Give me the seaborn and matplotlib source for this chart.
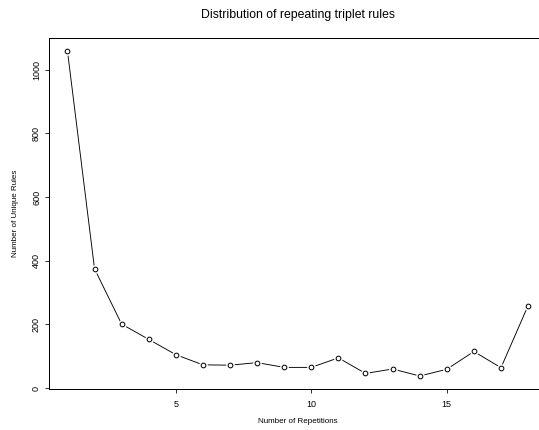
import numpy as np
import pandas as pd
import matplotlib
matplotlib.use("Agg")
import matplotlib.pyplot as plt
import seaborn as sns

# Number of times a triplet rule repeats, and how many unique rules do so
repetitions = list(range(1, 19))
unique_rules = [1060, 375, 201, 153, 105, 73, 72, 80, 65, 65,
                95, 46, 60, 38, 59, 115, 64, 259]

x_ticks = [5, 10, 15]
y_ticks = [0, 200, 400, 600, 800, 1000]

title = "Distribution of repeating triplet rules"
x_label = "Number of Repetitions"
y_label = "Number of Unique Rules"

df = pd.DataFrame({"reps": repetitions, "rules": unique_rules})

sns.set_style("ticks")
plt.rcParams["font.family"] = ["Liberation Sans", "DejaVu Sans"]

W, H, DPI = 539, 430, 72
fig = plt.figure(figsize=(W / DPI, H / DPI), dpi=DPI)
ax = fig.add_axes([49 / W, (H - 389) / H, (546.5 - 49) / W, (389 - 37.7) / H])

# connecting line, then a white halo around each point to open small gaps,
# then the hollow circles on top
sns.lineplot(data=df, x="reps", y="rules", ax=ax, color="black",
             linewidth=0.9, zorder=2)
sns.scatterplot(data=df, x="reps", y="rules", ax=ax, s=75, color="white",
                edgecolor="white", linewidth=0, zorder=3)
sns.scatterplot(data=df, x="reps", y="rules", ax=ax, s=22, facecolor="white",
                edgecolor="black", linewidth=1.0, zorder=4)

# axis ranges padded by 4% on each side
xr = max(repetitions) - min(repetitions)
yr = max(unique_rules) - min(unique_rules)
ax.set_xlim(min(repetitions) - 0.04 * xr, max(repetitions) + 0.04 * xr)
ax.set_ylim(min(unique_rules) - 0.04 * yr, max(unique_rules) + 0.04 * yr)

ax.set_xticks(x_ticks)
ax.set_yticks(y_ticks)
ax.tick_params(axis="both", direction="out", length=4, width=0.8,
               color="black", labelsize=9, labelcolor="black")
ax.tick_params(axis="x", pad=7)
ax.tick_params(axis="y", pad=4)
for lab in ax.get_yticklabels():
    lab.set_rotation(90)
    lab.set_va("center")

for sp in ax.spines.values():
    sp.set_visible(True)
    sp.set_color("black")
    sp.set_linewidth(1.0)

ax.set_xlabel(x_label, fontsize=8, labelpad=9, color="black")
ax.set_ylabel(y_label, fontsize=8, labelpad=13, color="black")
ax.set_title(title, fontsize=12.2, pad=20, color="black")

fig.savefig("out.png", dpi=DPI)
